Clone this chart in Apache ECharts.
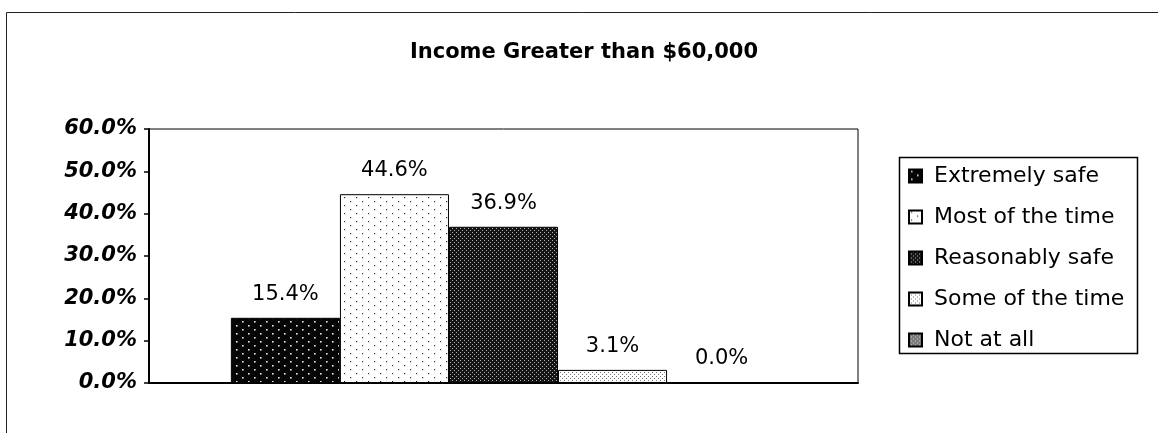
<!DOCTYPE html>
<html>
<head>
<meta charset="utf-8">
<script src="https://cdn.jsdelivr.net/npm/echarts@6/dist/echarts.min.js"></script>
<style>
html,body{margin:0;padding:0;background:#fff;}
#chart{width:1158px;height:433px;}
</style>
</head>
<body>
<div id="chart"></div>
<script>
// ---- data ----
const categories = [''];
const seriesNames = ['Extremely safe', 'Most of the time', 'Reasonably safe', 'Some of the time', 'Not at all'];
const values = [15.4, 44.6, 36.9, 3.1, 0.0];
const yMin = 0, yMax = 60, yInterval = 10;
const titleText = 'Income Greater than $60,000';

// ---- fill patterns (style only) ----
function makePattern(w, h, bg, fg, dots, size) {
  const c = document.createElement('canvas');
  c.width = w; c.height = h;
  const ctx = c.getContext('2d');
  ctx.fillStyle = bg; ctx.fillRect(0, 0, w, h);
  ctx.fillStyle = fg;
  dots.forEach(d => ctx.fillRect(d[0], d[1], size, size));
  return { image: c, repeat: 'repeat' };
}
const patterns = [
  makePattern(12, 8, '#050505', '#e8e8e8', [[2, 1], [8, 5]], 1.6),
  makePattern(12, 8, '#ffffff', '#333333', [[2, 1], [8, 5]], 1.2),
  makePattern(4, 4, '#151515', '#b0b0b0', [[0, 0], [2, 2]], 1),
  makePattern(4, 4, '#ffffff', '#777777', [[0, 0], [2, 2]], 1),
  makePattern(4, 4, '#7a7a7a', '#d0d0d0', [[0, 1], [2, 3]], 1)
];

const FONT = 'DejaVu Sans';
const chart = echarts.init(document.getElementById('chart'), null, { renderer: 'canvas' });

const series = seriesNames.map((name, i) => ({
  name: name,
  type: 'bar',
  data: [values[i]],
  barGap: '0%',
  barCategoryGap: '23.1%',
  itemStyle: { color: patterns[i], borderColor: '#000', borderWidth: 1 },
  label: {
    show: true,
    position: 'top',
    distance: 13,
    color: '#000',
    fontFamily: FONT,
    fontSize: 21,
    formatter: p => p.value.toFixed(1) + '%'
  }
}));

chart.setOption({
  animation: false,
  backgroundColor: '#fff',
  title: {
    text: titleText,
    left: 584,
    top: 42,
    padding: 0,
    textAlign: 'center',
    textStyle: { fontFamily: FONT, fontWeight: 'bold', fontSize: 21, color: '#000' }
  },
  legend: {
    orient: 'vertical',
    left: 908,
    top: 165,
    padding: 0,
    itemWidth: 13,
    itemHeight: 13,
    itemGap: 19,
    icon: 'rect',
    data: seriesNames,
    textStyle: { fontFamily: FONT, fontSize: 22, lineHeight: 22, color: '#000', padding: [0, 0, 0, 7] }
  },
  grid: {
    left: 149, right: 300, top: 129, bottom: 50,
    show: true, borderColor: '#000', borderWidth: 1, backgroundColor: 'transparent'
  },
  xAxis: {
    type: 'category',
    data: categories,
    axisLine: { show: true, lineStyle: { color: '#000', width: 2 } },
    axisTick: { show: false },
    axisLabel: { show: false },
    splitLine: { show: false }
  },
  yAxis: {
    type: 'value',
    min: yMin, max: yMax, interval: yInterval,
    axisLine: { show: true, lineStyle: { color: '#000', width: 2 } },
    axisTick: { show: true, inside: false, length: 5, lineStyle: { color: '#000', width: 1.5 } },
    splitLine: { show: false },
    axisLabel: {
      margin: 12,
      color: '#000',
      fontFamily: FONT,
      fontWeight: 'bold',
      fontStyle: 'italic',
      fontSize: 21,
      formatter: v => v.toFixed(1) + '%'
    }
  },
  graphic: [
    {
      type: 'polyline',
      shape: { points: [[6.5, 433], [6.5, 12.5], [1158, 12.5]] },
      style: { stroke: '#222', lineWidth: 1, fill: null },
      silent: true
    },
    {
      type: 'rect',
      shape: { x: 899.5, y: 157.5, width: 238, height: 196 },
      style: { stroke: '#000', lineWidth: 1.5, fill: null },
      silent: true
    }
  ],
  series: series
});
</script>
</body>
</html>
